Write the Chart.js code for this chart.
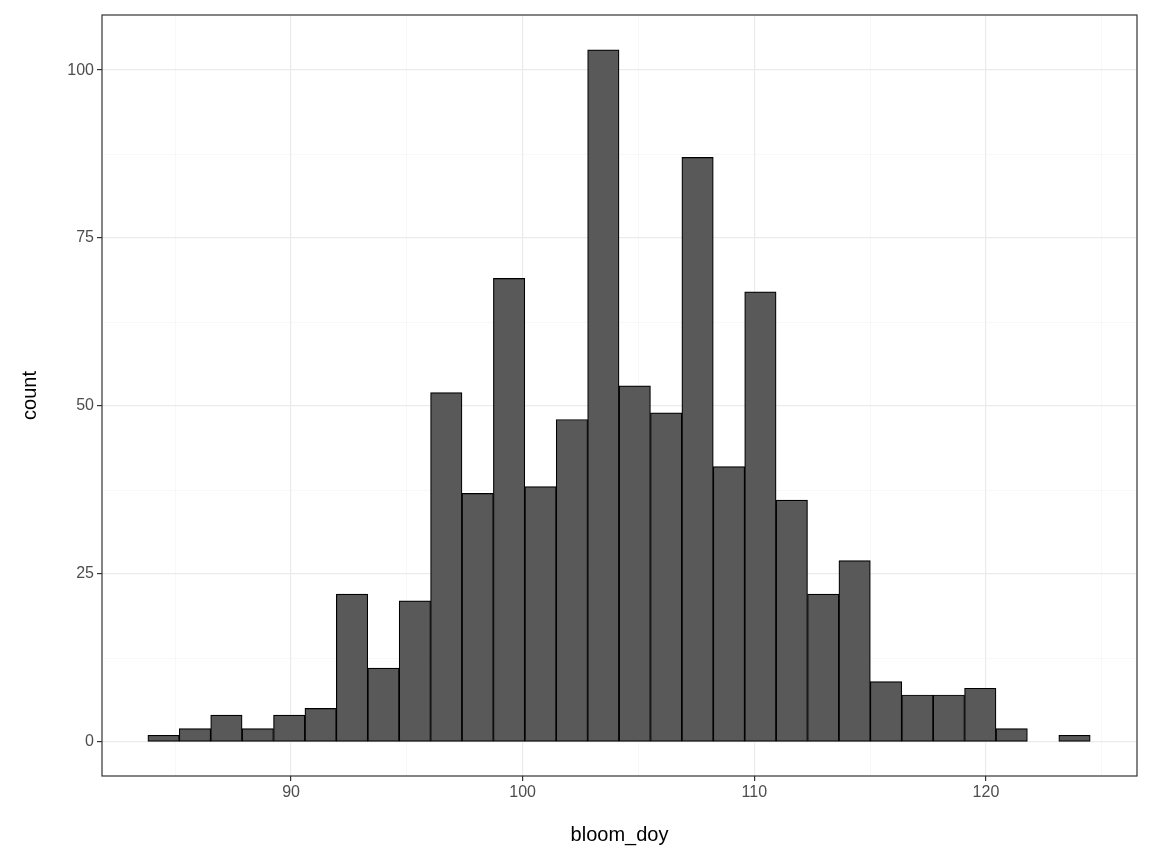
<!DOCTYPE html>
<html><head><meta charset="utf-8">
<script src="https://cdn.jsdelivr.net/npm/chart.js@4"></script>
<style>html,body{margin:0;padding:0;background:#fff}#c{display:block}</style>
</head><body>
<div style="width:1152px;height:864px"><canvas id="c"></canvas></div>
<script>
const binStart = 83.82;
const binWidth = 1.356;
const counts = [1,2,4,2,4,5,22,11,21,52,37,69,38,48,103,53,49,87,41,67,36,22,27,9,7,7,8,2,0,1];
const xTicks = [90,100,110,120];
const yTicks = [0,25,50,75,100];
const data = counts.map((v,i)=>({x: binStart + binWidth*(i+0.5), y: v}));
const border = {id:'border',afterDraw(ch){const a=ch.chartArea,c=ch.ctx;c.save();c.strokeStyle='#333';c.lineWidth=1.2;c.strokeRect(a.left,a.top,a.right-a.left,a.bottom-a.top);c.restore();}};
new Chart(document.getElementById('c'),{
 type:'bar',
 data:{datasets:[{data,backgroundColor:'#595959',borderColor:'#000',borderWidth:1.2,barPercentage:1,categoryPercentage:1,borderSkipped:false}]},
 options:{responsive:true,maintainAspectRatio:false,animation:false,
  layout:{padding:{top:15,right:15,left:18,bottom:17}},
  plugins:{legend:{display:false},tooltip:{enabled:false}},
  scales:{
   x:{type:'linear',min:81.84,max:126.52,offset:false,
    afterBuildTicks(s){s.ticks=[85,90,95,100,105,110,115,120,125].map(v=>({value:v}));},
    afterFit(s){s.height=71;},
    grid:{offset:false,color:c=>c.tick&&c.tick.value%10===0?'#EBEBEB':'#F3F3F3',lineWidth:c=>c.tick&&c.tick.value%10===0?1.2:0.6,drawTicks:true,tickLength:5,tickColor:c=>c.tick&&c.tick.value%10===0?'#333':'rgba(0,0,0,0)'},
    border:{display:false},
    ticks:{autoSkip:false,maxRotation:0,color:'#4D4D4D',font:{family:'Liberation Sans, Arial',size:16},padding:2,callback:v=>xTicks.includes(v)?String(v):''},
    title:{display:true,text:'bloom_doy',color:'#000',font:{family:'Liberation Sans, Arial',size:20},padding:{top:4,bottom:0}}},
   y:{min:-5.06,max:108.2,
    afterBuildTicks(s){s.ticks=[0,12.5,25,37.5,50,62.5,75,87.5,100].map(v=>({value:v}));},
    afterFit(s){s.width=84;},
    grid:{offset:false,color:c=>c.tick&&c.tick.value%25===0?'#EBEBEB':'#F3F3F3',lineWidth:c=>c.tick&&c.tick.value%25===0?1.2:0.6,tickLength:5,tickColor:c=>c.tick&&c.tick.value%25===0?'#333':'rgba(0,0,0,0)'},
    border:{display:false},
    ticks:{autoSkip:false,color:'#4D4D4D',font:{family:'Liberation Sans, Arial',size:16},padding:3,callback:v=>yTicks.includes(v)?String(v):''},
    title:{display:true,text:'count',color:'#000',font:{family:'Liberation Sans, Arial',size:20},padding:{top:0,bottom:0}}}
  }},
 plugins:[border]
});
</script></body></html>
